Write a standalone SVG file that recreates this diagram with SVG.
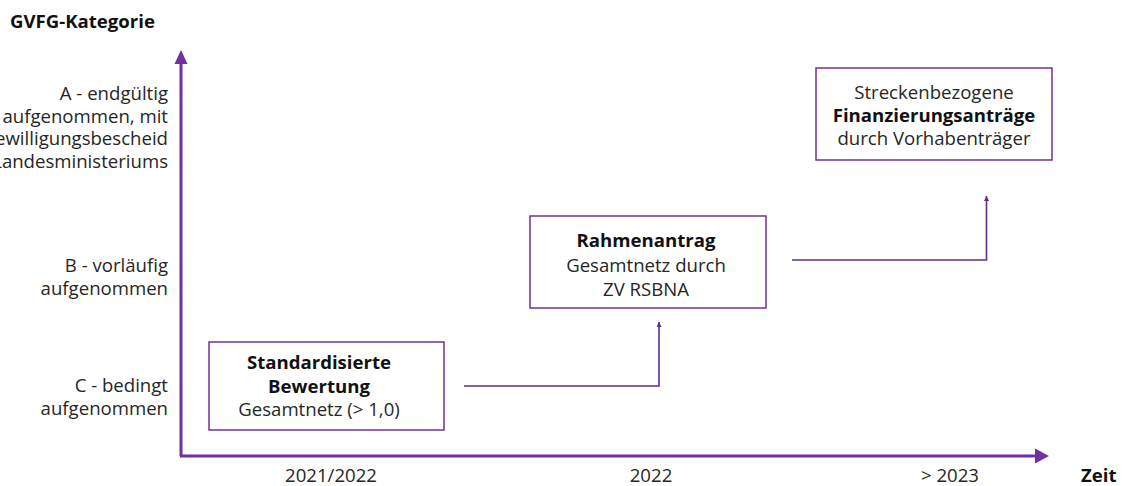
<svg xmlns="http://www.w3.org/2000/svg" width="1124" height="486" viewBox="0 0 1124 486">
<style>
text{font-family:"Open Sans","Noto Sans","Liberation Sans",sans-serif;font-size:18.6px;fill:#262626}
.b{font-weight:bold;fill:#111}
.c{text-anchor:middle}
.r{text-anchor:end}
.box{fill:#fff;stroke:#7030A0;stroke-width:1.5}
.axis{stroke:#7030A0;stroke-width:3;fill:none}
.conn{stroke:#5E2D87;stroke-width:1.6;fill:none}
</style>
<defs>
<marker id="ah" viewBox="0 0 10 10" refX="10" refY="5" markerWidth="5" markerHeight="5" orient="auto" markerUnits="userSpaceOnUse">
<path d="M0,0 L10,5 L0,10 z" fill="#5E2D87"/>
</marker>
</defs>
<rect width="1124" height="486" fill="#fff"/>
<g id="axes">
<line class="axis" x1="181" y1="456" x2="181" y2="62"/>
<path d="M174.5,64 L181,50 L187.5,64 z" fill="#7030A0"/>
<line class="axis" x1="180" y1="456" x2="1036" y2="456"/>
<path d="M1035,448.5 L1049,456 L1035,463.5 z" fill="#7030A0"/>
</g>
<g id="ylabels">
<text x="10" y="28" class="b">GVFG-Kategorie</text>
<text x="168" y="100" class="r">A - endgültig</text>
<text x="168" y="123" class="r">aufgenommen, mit</text>
<text x="168" y="145" class="r">Bewilligungsbescheid</text>
<text x="168" y="168" class="r">Landesministeriums</text>
<text x="168" y="272" class="r">B - vorläufig</text>
<text x="168" y="295" class="r">aufgenommen</text>
<text x="168" y="392" class="r">C - bedingt</text>
<text x="168" y="415" class="r">aufgenommen</text>
</g>
<g id="xlabels">
<text x="331" y="482" class="c">2021/2022</text>
<text x="651" y="482" class="c">2022</text>
<text x="950" y="482" class="c">&gt; 2023</text>
<text x="1081" y="482" class="b">Zeit</text>
</g>
<g id="node-standard">
<rect class="box" x="209" y="342" width="235" height="88"/>
<text x="319" y="369" class="c b">Standardisierte</text>
<text x="319" y="393" class="c b">Bewertung</text>
<text x="319" y="416" class="c">Gesamtnetz (&gt; 1,0)</text>
</g>
<g id="node-rahmen">
<rect class="box" x="530" y="216" width="236" height="92"/>
<text x="646" y="247" class="c b">Rahmenantrag</text>
<text x="646" y="272" class="c">Gesamtnetz durch</text>
<text x="646" y="296" class="c">ZV RSBNA</text>
</g>
<g id="node-finanz">
<rect class="box" x="816" y="68" width="236" height="92"/>
<text x="934" y="99" class="c">Streckenbezogene</text>
<text x="934" y="122" class="c b">Finanzierungsanträge</text>
<text x="934" y="145" class="c">durch Vorhabenträger</text>
</g>
<g id="connectors">
<path class="conn" d="M464,386 H659 V322" marker-end="url(#ah)"/>
<path class="conn" d="M792,260 H986.5 V196" marker-end="url(#ah)"/>
</g>
</svg>
